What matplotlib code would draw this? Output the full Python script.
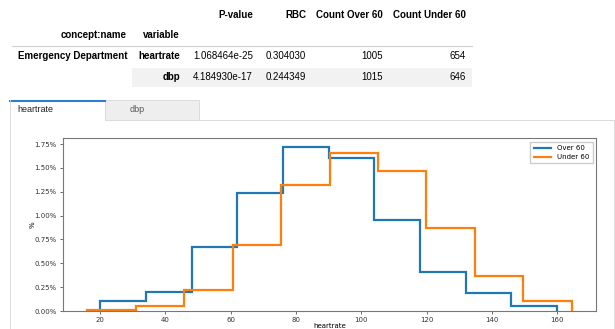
import matplotlib.pyplot as plt
from matplotlib.patches import Rectangle
from matplotlib.ticker import PercentFormatter

# summary table
columns = ["P-value", "RBC", "Count Over 60", "Count Under 60"]
index_names = ["concept:name", "variable"]
group = "Emergency Department"
variables = ["heartrate", "dbp"]
p_values = ["1.068464e-25", "4.184930e-17"]
rbc = ["0.304030", "0.244349"]
count_over = [1005, 1015]
count_under = [654, 646]

# heartrate histograms (percent per unit)
over_edges = [20, 34, 48, 62, 76, 90, 104, 118, 132, 146, 160]
over_pct = [0.105, 0.203, 0.667, 1.233, 1.718, 1.603, 0.954, 0.405, 0.193, 0.049]
under_edges = [16, 30.85, 45.7, 60.55, 75.4, 90.25, 105.1, 119.95, 134.8, 149.65, 164.5]
under_pct = [0.015, 0.049, 0.224, 0.692, 1.317, 1.652, 1.467, 0.870, 0.364, 0.105]

W, H = 615, 329
fig = plt.figure(figsize=(W / 100, H / 100), dpi=100)

# page layer in pixel coordinates
bg = fig.add_axes([0, 0, 1, 1], zorder=0)
bg.set_xlim(0, W)
bg.set_ylim(H, 0)
bg.axis("off")

tfont = dict(family=["Liberation Sans", "DejaVu Sans"], fontsize=7, va="center", ha="right")

col_right = [253, 306, 383, 466]
for name, x in zip(columns, col_right):
    bg.text(x, 15, name, fontweight="bold", **tfont)
bg.text(127, 35, index_names[0], fontweight="bold", **tfont)
bg.text(180, 35, index_names[1], fontweight="bold", **tfont)
bg.plot([12, 472], [45.5, 45.5], color="#d0d0d0", lw=0.8)

bg.add_patch(Rectangle((132, 67.5), 340, 19.5, color="#f2f2f2", lw=0))
row_y = [56, 77]
bg.text(127, row_y[0], group, fontweight="bold", **tfont)
for i, y in enumerate(row_y):
    bg.text(180, y, variables[i], fontweight="bold", **tfont)
    bg.text(col_right[0], y, p_values[i], **tfont)
    bg.text(col_right[1], y, rbc[i], **tfont)
    bg.text(col_right[2], y, str(count_over[i]), **tfont)
    bg.text(col_right[3], y, str(count_under[i]), **tfont)

# tabs
bg.add_patch(Rectangle((105, 100), 94, 20, facecolor="#eeeeee", edgecolor="#d6d6d6", lw=0.6))
bg.plot([10, 105], [100.5, 100.5], color="#2f7fd0", lw=1.5)
bg.plot([10, 10], [100, 329], color="#d6d6d6", lw=0.6)
bg.plot([199, 614], [120, 120], color="#d6d6d6", lw=0.6)
bg.plot([613.5, 613.5], [120, 329], color="#d6d6d6", lw=0.6)
bg.text(17, 110, "heartrate", family=["Liberation Sans", "DejaVu Sans"], fontsize=6.5,
        va="center", ha="left", color="#222222")
bg.text(130, 110, "dbp", family=["Liberation Sans", "DejaVu Sans"], fontsize=6.5,
        va="center", ha="left", color="#555555")

# histogram
ax = fig.add_axes([63 / W, 1 - 311 / H, 533 / W, 172.7 / H], zorder=1)
ax.stairs(over_pct, over_edges, color="#1f77b4", lw=1.6, baseline=0, label="Over 60")
ax.stairs(under_pct, under_edges, color="#ff7f0e", lw=1.6, baseline=0, label="Under 60")
ax.set_xlim(8.6, 171.9)
ax.set_ylim(0, 1.81)
ax.set_xticks([20, 40, 60, 80, 100, 120, 140, 160])
ax.set_yticks([0, 0.25, 0.5, 0.75, 1.0, 1.25, 1.5, 1.75])
ax.yaxis.set_major_formatter(PercentFormatter(decimals=2))
ax.tick_params(labelsize=5, length=2.5, width=0.5, colors="#333333", pad=2)
for s in ax.spines.values():
    s.set_linewidth(0.8)
    s.set_color("#777777")
ax.set_xlabel("heartrate", fontsize=5, labelpad=0)
ax.set_ylabel("%", fontsize=5, labelpad=-1)
ax.legend(loc="upper right", fontsize=5, handlelength=2.5, borderpad=0.5, labelspacing=0.4,
          framealpha=1, edgecolor="#cccccc", fancybox=False)

fig.savefig("out.png", dpi=100)
